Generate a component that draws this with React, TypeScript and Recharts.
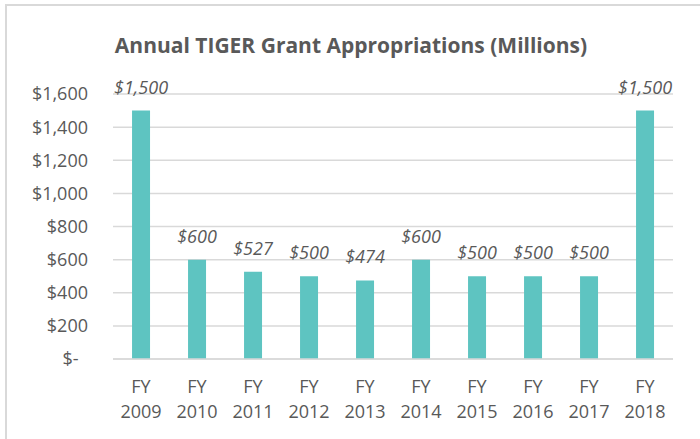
import React from 'react';
import { BarChart, Bar, XAxis, YAxis, CartesianGrid, LabelList } from 'recharts';

// Fiscal years and appropriations (millions of dollars)
const years = ['2009', '2010', '2011', '2012', '2013', '2014', '2015', '2016', '2017', '2018'];
const amounts = [1500, 600, 527, 500, 474, 600, 500, 500, 500, 1500];
const yTicks = [0, 200, 400, 600, 800, 1000, 1200, 1400, 1600];

const data = years.map((y, i) => ({ year: y, amount: amounts[i] }));

const FONT = '"Open Sans", sans-serif';
const GRAY = '#595959';

// Excel-style accounting format: $1,500 / $-
const money = (v: number) => (v === 0 ? '$-\u00A0\u00A0' : `$${v.toLocaleString('en-US')}`);

const YearTick = (props: any) => {
  const { x, y, payload } = props;
  return (
    <g transform={`translate(${x},${y})`}>
      <text x={0} y={0} dy={26} textAnchor="middle" fill={GRAY} fontSize={18} fontFamily={FONT}>
        FY
      </text>
      <text x={0} y={0} dy={51} textAnchor="middle" fill={GRAY} fontSize={18} fontFamily={FONT}>
        {payload.value}
      </text>
    </g>
  );
};

export default function App() {
  return (
    <div style={{ position: 'absolute', left: 0, top: 0, width: 700, height: 439, overflow: 'hidden', background: '#fff' }}>
      {/* chart frame, only top and left edges are visible in the picture */}
      <div
        style={{
          position: 'absolute',
          left: 5,
          top: 4,
          width: 720,
          height: 460,
          borderLeft: '2px solid #d9d9d9',
          borderTop: '2px solid #d9d9d9',
        }}
      />
      <div
        style={{
          position: 'absolute',
          left: 0,
          top: 30,
          width: 702,
          textAlign: 'center',
          fontFamily: FONT,
          fontWeight: 700,
          fontSize: 21,
          color: GRAY,
          lineHeight: '30px',
        }}
      >
        Annual TIGER Grant Appropriations (Millions)
      </div>
      <div style={{ position: 'absolute', left: 0, top: 0 }}>
        <BarChart width={700} height={439} data={data} margin={{ top: 94, right: 27, left: 0, bottom: 0 }} barCategoryGap="34%">
          <CartesianGrid vertical={false} stroke="#d9d9d9" strokeWidth={1.5} />
          <XAxis
            dataKey="year"
            height={80}
            axisLine={{ stroke: '#d9d9d9', strokeWidth: 1.5 }}
            tickLine={false}
            interval={0}
            tick={<YearTick />}
          />
          <YAxis
            width={113}
            domain={[0, 1600]}
            ticks={yTicks}
            tickFormatter={money}
            axisLine={false}
            tickLine={false}
            tickMargin={19}
            tick={{ fill: GRAY, fontSize: 18, fontFamily: FONT }}
          />
          <Bar dataKey="amount" fill="#5EC4C1" isAnimationActive={false}>
            <LabelList
              dataKey="amount"
              position="top"
              offset={17}
              formatter={(v: any) => money(Number(v))}
              style={{ fill: GRAY, fontSize: 18, fontFamily: FONT, fontStyle: 'italic' }}
            />
          </Bar>
        </BarChart>
      </div>
    </div>
  );
}
